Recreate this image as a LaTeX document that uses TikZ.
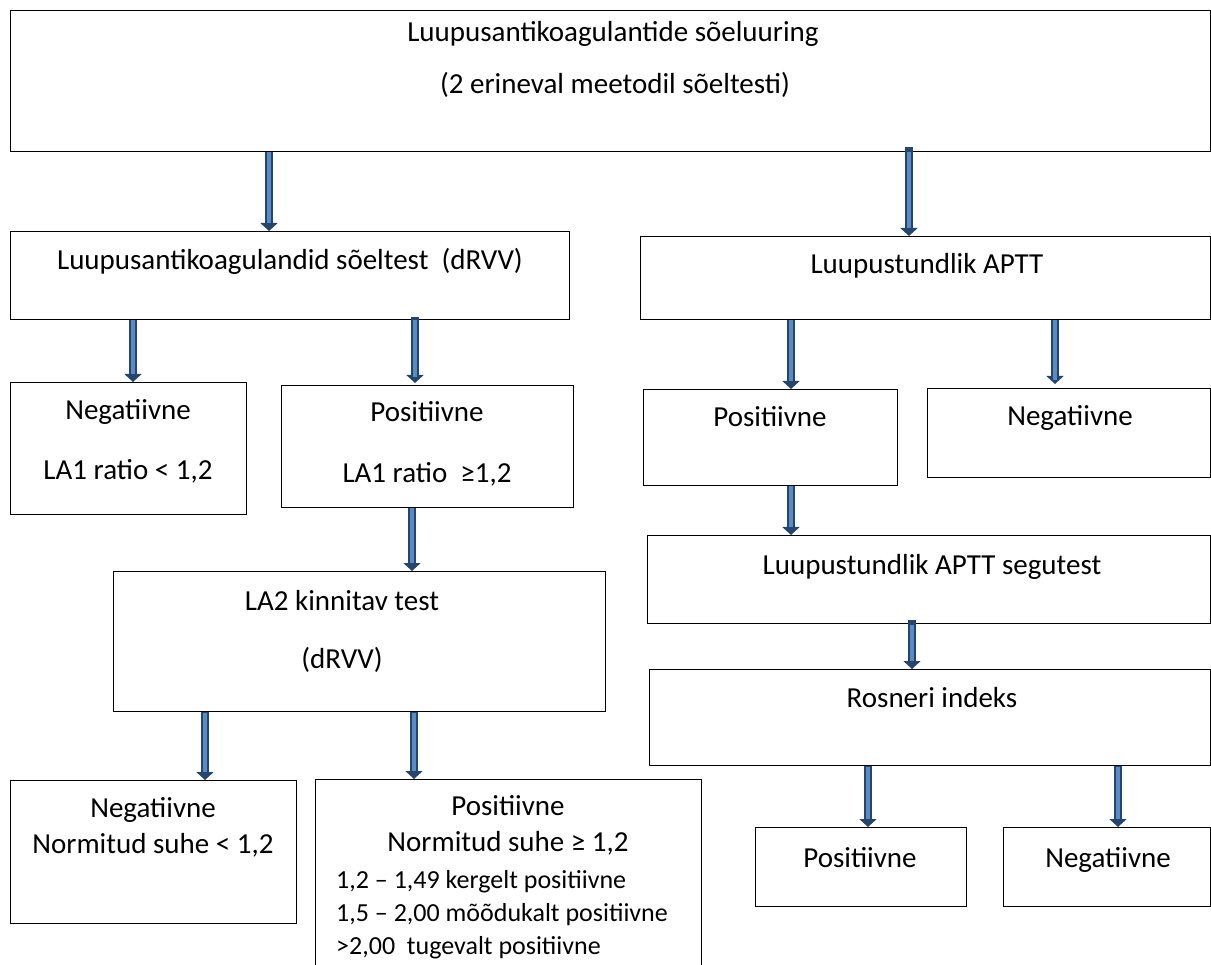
\documentclass[tikz,border=0pt]{standalone}
\usepackage{fontspec}
\setmainfont{Carlito}
\usetikzlibrary{arrows.meta}
\definecolor{arrdark}{HTML}{24466E}
\definecolor{arrlight}{HTML}{5B8BC4}
\tikzset{
  box/.style={draw=black, line width=1pt, rectangle, inner sep=0pt, anchor=north west},
  txt/.style={font=\fontsize{29}{34}\selectfont, inner sep=0pt, anchor=base},
  ltxt/.style={font=\fontsize{26}{31}\selectfont, inner sep=0pt, anchor=base west},
  barrow/.style={draw=arrdark, line width=7.5pt, -{Triangle[width=17pt,length=8pt]},
    postaction={draw=arrlight, line width=3.5pt, -, shorten >=8pt, shorten <=0.5pt}},
}
\begin{document}
\begin{tikzpicture}[x=1pt,y=-1pt]
\useasboundingbox (0,0) rectangle (1211,965);
% boxes
\node[box, minimum width=1200pt, minimum height=141pt] (top) at (10,10) {};
\node[box, minimum width=559pt, minimum height=88pt] (drvv) at (10,231) {};
\node[box, minimum width=570pt, minimum height=83pt] (aptt) at (640,236) {};
\node[box, minimum width=236pt, minimum height=132pt] (neg1) at (10,382) {};
\node[box, minimum width=292pt, minimum height=122pt] (pos1) at (281,385) {};
\node[box, minimum width=254pt, minimum height=96pt] (pos2) at (643,389) {};
\node[box, minimum width=283pt, minimum height=89pt] (neg2) at (927,388) {};
\node[box, minimum width=492pt, minimum height=140pt] (la2) at (113,571) {};
\node[box, minimum width=563pt, minimum height=88pt] (seg) at (647,535) {};
\node[box, minimum width=561pt, minimum height=96pt] (ros) at (649,669) {};
\node[box, minimum width=286pt, minimum height=143pt] (neg3) at (10,780) {};
\node[box, minimum width=386pt, minimum height=200pt] (pos3) at (315,779) {};
\node[box, minimum width=211pt, minimum height=79pt] (pos4) at (755,827) {};
\node[box, minimum width=207pt, minimum height=79pt] (neg4) at (1003,827) {};
% texts
\node[txt] (t1) at (613,42) {Luupusantikoagulantide sõeluuring};
\node[txt] (t2) at (615,94) {(2 erineval meetodil sõeltesti)};
\node[txt] (t3) at (290,270) {Luupusantikoagulandid sõeltest \ (dRVV)};
\node[txt] (t4) at (927,274) {Luupustundlik APTT};
\node[txt] (t5) at (128,420) {Negatiivne};
\node[txt] (t6) at (128,480) {LA1 ratio < 1,2};
\node[txt] (t7) at (427,422) {Positiivne};
\node[txt] (t8) at (427,483) {LA1 ratio \ ≥1,2};
\node[txt] (t9) at (770,427) {Positiivne};
\node[txt] (t10) at (1070,426) {Negatiivne};
\node[txt] (t11) at (342,610) {LA2 kinnitav test};
\node[txt] (t12) at (342,668) {(dRVV)};
\node[txt] (t13) at (932,574) {Luupustundlik APTT segutest};
\node[txt] (t14) at (932,707) {Rosneri indeks};
\node[txt] (t15) at (153,817) {Negatiivne};
\node[txt] (t16) at (153,853) {Normitud suhe < 1,2};
\node[txt] (t17) at (508,815) {Positiivne};
\node[txt] (t18) at (508,851) {Normitud suhe ≥ 1,2};
\node[ltxt] (t19) at (336,888) {1,2 – 1,49 kergelt positiivne};
\node[ltxt] (t20) at (336,921) {1,5 – 2,00 mõõdukalt positiivne};
\node[ltxt] (t21) at (336,954) {>2,00 \ tugevalt positiivne};
\node[txt] (t22) at (860,867) {Positiivne};
\node[txt] (t23) at (1108,867) {Negatiivne};
% arrow x positions
\coordinate (x1) at (269,0);
\coordinate (x2) at (909,0);
\coordinate (x3) at (133,0);
\coordinate (x4) at (415,0);
\coordinate (x5) at (791,0);
\coordinate (x6) at (1055,0);
\coordinate (x7) at (412,0);
\coordinate (x8) at (912,0);
\coordinate (x9) at (205,0);
\coordinate (x10) at (414,0);
\coordinate (x11) at (868,0);
\coordinate (x12) at (1118,0);
% arrows
\draw[barrow] (top.south -| x1) -- (drvv.north -| x1);
\draw[barrow, shorten <=-5pt] (top.south -| x2) -- (aptt.north -| x2);
\draw[barrow] (drvv.south -| x3) -- (neg1.north -| x3);
\draw[barrow, shorten <=-3pt, shorten >=2pt] (drvv.south -| x4) -- (pos1.north -| x4);
\draw[barrow] (aptt.south -| x5) -- (pos2.north -| x5);
\draw[barrow, shorten >=4pt] (aptt.south -| x6) -- (neg2.north -| x6);
\draw[barrow] (pos1.south -| x7) -- (la2.north -| x7);
\draw[barrow] (pos2.south -| x5) -- (seg.north -| x5);
\draw[barrow, shorten <=-4pt] (seg.south -| x8) -- (ros.north -| x8);
\draw[barrow] (la2.south -| x9) -- (neg3.north -| x9);
\draw[barrow] (la2.south -| x10) -- (pos3.north -| x10);
\draw[barrow] (ros.south -| x11) -- (pos4.north -| x11);
\draw[barrow] (ros.south -| x12) -- (neg4.north -| x12);
\end{tikzpicture}
\end{document}
